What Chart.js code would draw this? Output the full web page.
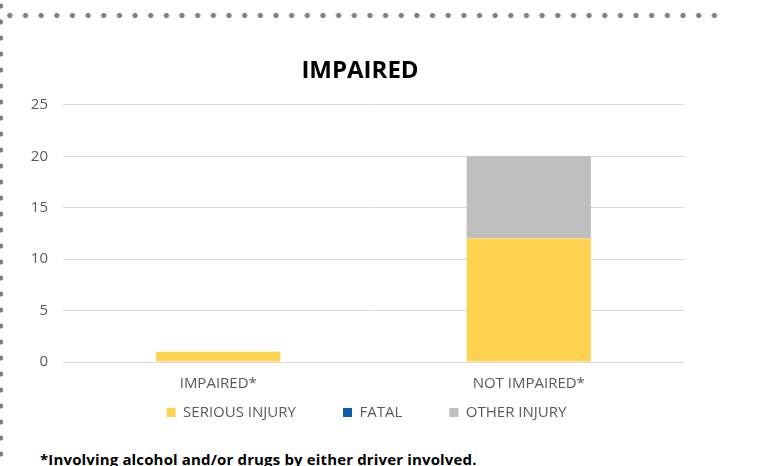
<!DOCTYPE html>
<html>
<head>
<meta charset="utf-8">
<script src="https://cdn.jsdelivr.net/npm/chart.js@4.4.0/dist/chart.umd.min.js"></script>
<style>
  html, body { margin: 0; padding: 0; background: #fff; }
  body { width: 760px; height: 466px; position: relative; overflow: hidden; font-family: "Open Sans", sans-serif; }
  #topDots { position: absolute; left: 2px; top: 13px; width: 721px; height: 5px;
    background: radial-gradient(circle, #808080 2.3px, rgba(128,128,128,0) 2.9px) 0 0 / 15.67px 5px repeat-x; }
  #leftDots { position: absolute; left: -2px; top: -2px; width: 5px; height: 470px;
    background: radial-gradient(circle, #808080 2.3px, rgba(128,128,128,0) 2.9px) 0 0 / 5px 16px repeat-y; }
  #wrap { position: absolute; left: 0; top: 30px; width: 720px; height: 400px; }
  #note { position: absolute; left: 40px; top: 449px; font-weight: bold; font-size: 15px; letter-spacing: 0.15px; color: #000; white-space: nowrap; }
</style>
</head>
<body>
<div id="topDots"></div>
<div id="leftDots"></div>
<div id="wrap"><canvas id="chart"></canvas></div>
<div id="note">*Involving alcohol and/or drugs by either driver involved.</div>
<script>
// values
var categories = ['IMPAIRED*', 'NOT IMPAIRED*'];
var seriousInjury = [1, 12];
var fatal = [0, 0];
var otherInjury = [0, 8];
var yTicks = [0, 5, 10, 15, 20, 25];

// extra room after legend text, the legend padding alone would also grow its height
var legendGap = '         ';

var ctx = document.getElementById('chart').getContext('2d');

var chartData = {
  labels: categories,
  datasets: [{
    label: 'SERIOUS INJURY',
    data: seriousInjury,
    backgroundColor: '#FFD34F'
  }, {
    label: 'FATAL',
    data: fatal,
    backgroundColor: '#0B5FA8'
  }, {
    label: 'OTHER INJURY',
    data: otherInjury,
    backgroundColor: '#BFBFBF'
  }]
};

var chartOptions = {
  responsive: true,
  maintainAspectRatio: false,
  animation: false,
  layout: { padding: { left: 31, right: 36, top: 0, bottom: 0 } },
  datasets: { bar: { categoryPercentage: 1, barPercentage: 0.4 } },
  scales: {
    x: {
      stacked: true,
      grid: { display: false, drawTicks: false },
      border: { display: false },
      ticks: { color: '#595959', font: { family: 'Open Sans', size: 15 }, padding: 13 },
      afterFit: function(scale) { scale.height = 31; }
    },
    y: {
      stacked: true,
      min: 0,
      max: 25,
      afterBuildTicks: function(scale) {
        scale.ticks = yTicks.map(function(v) { return { value: v }; });
      },
      afterFit: function(scale) { scale.width = 32; },
      grid: { color: '#D9D9D9', lineWidth: 1, drawTicks: false },
      border: { display: false },
      ticks: { color: '#595959', font: { family: 'Open Sans', size: 15 }, padding: 15 }
    }
  },
  plugins: {
    legend: {
      position: 'bottom',
      labels: {
        boxWidth: 9,
        boxHeight: 9,
        padding: 12,
        color: '#595959',
        font: { family: 'Open Sans', size: 15 },
        generateLabels: function(chart) {
          var items = Chart.defaults.plugins.legend.labels.generateLabels(chart);
          items.forEach(function(item, i) {
            if (i < items.length - 1) item.text = item.text + legendGap;
          });
          return items;
        }
      }
    },
    title: {
      display: true,
      text: 'IMPAIRED',
      color: '#000',
      font: { family: 'Open Sans', size: 24, weight: 'bold' },
      padding: { top: 27, bottom: 19 }
    },
    tooltip: { enabled: false }
  }
};

// nudge title and legend a little to the right, like in the original
var nudge = {
  id: 'nudge',
  afterLayout: function(chart) {
    chart.legend.left += 18;
    chart.titleBlock.left += 5;
  }
};

new Chart(ctx, { type: 'bar', data: chartData, options: chartOptions, plugins: [nudge] });
</script>
</body>
</html>
